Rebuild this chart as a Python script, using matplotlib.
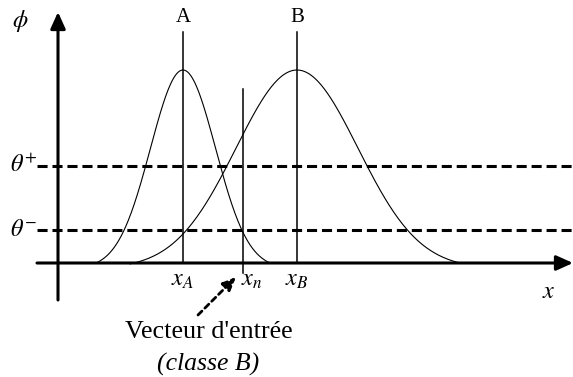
import numpy as np
import matplotlib
matplotlib.use("Agg")
import matplotlib.pyplot as plt

plt.rcParams["font.family"] = ["Liberation Serif", "DejaVu Serif"]
plt.rcParams["mathtext.fontset"] = "stix"

# diagram values (x position along the input axis, phi = activation)
class_names = ["A", "B"]
class_centers = [125, 239]
class_sigmas = [32.5, 61.0]
class_peak = [193, 193]
class_support = [(37, 212), (72, 402)]
x_input = 185
theta_plus = 97
theta_minus = 33
x_labels = [r"$x_A$", r"$x_n$", r"$x_B$"]

fig = plt.figure(figsize=(5.73, 3.77), dpi=100)
ax = fig.add_axes([0, 0, 1, 1])
ax.set_xlim(-58, 515)
ax.set_ylim(-114, 263)
ax.axis("off")

# axes with arrow heads
arrow = dict(arrowstyle="-|>,head_length=1.0,head_width=0.45", lw=2.2,
             color="black", shrinkA=0, shrinkB=0, mutation_scale=10)
ax.annotate("", xy=(515, 0), xytext=(-21, 0), arrowprops=arrow)
ax.annotate("", xy=(0, 251), xytext=(0, -37), arrowprops=arrow)

# thresholds
for th in [theta_plus, theta_minus]:
    ax.plot([-21, 515], [th, th], color="black", lw=2.2,
            linestyle=(0, (3.3, 1.6)))

# gaussian activation curves
for c, s, h, (lo, hi) in zip(class_centers, class_sigmas, class_peak, class_support):
    xs = np.linspace(lo, hi, 300)
    g = np.exp(-(xs - c) ** 2 / (2 * s ** 2))
    g0 = np.exp(-(hi - c) ** 2 / (2 * s ** 2))
    ys = h * (g - g0) / (1 - g0)
    ax.plot(xs, ys, color="black", lw=0.8)

# class centre lines and labels
for name, c in zip(class_names, class_centers):
    ax.plot([c, c], [0, 231], color="black", lw=1.1)
    ax.text(c, 245, name, ha="center", va="center", fontsize=15)

# input vector line
ax.plot([x_input, x_input], [-10, 174], color="black", lw=1.1)

# tick labels under the axis
for lab, xp in zip(x_labels, [class_centers[0], x_input + 9, class_centers[1]]):
    ax.text(xp, -17, lab, ha="center", va="center", fontsize=17.5)

ax.text(491, -29, r"$x$", ha="center", va="center", fontsize=17.5)
ax.text(-38, 242, r"$\phi$", ha="center", va="center", fontsize=17.5)
ax.text(-34, theta_plus, r"$\theta^{+}$", ha="center", va="center", fontsize=17.5)
ax.text(-34, theta_minus, r"$\theta^{-}$", ha="center", va="center", fontsize=17.5)

# annotation for the input vector
ax.annotate("", xy=(178, -14), xytext=(140, -52),
            arrowprops=dict(arrowstyle="-|>,head_length=0.8,head_width=0.35",
                            lw=2.0, color="black", linestyle=(0, (2.0, 1.5)),
                            shrinkA=0, shrinkB=0, mutation_scale=10))
ax.text(151, -69, "Vecteur d'entrée", ha="center", va="center", fontsize=18.8)
ax.text(150, -101, "(classe B)", ha="center", va="center", fontsize=18.5,
        style="italic")

fig.savefig("out.png", dpi=100)
